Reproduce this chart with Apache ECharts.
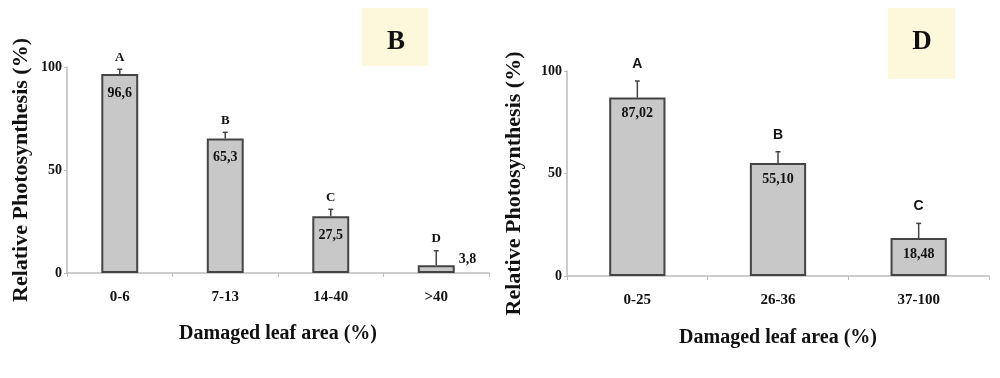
<!DOCTYPE html>
<html>
<head>
<meta charset="utf-8">
<script src="https://cdn.jsdelivr.net/npm/echarts@6/dist/echarts.min.js"></script>
<style>
  html, body { margin: 0; padding: 0; background: #fff; }
  #container { width: 1000px; height: 378px; }
</style>
</head>
<body>
<div id="container"></div>
<script>
var dom = document.getElementById('container');
var myChart = echarts.init(dom);

// panel B
var catsB = ['0-6', '7-13', '14-40', '>40'];
var valsB = [96.6, 65.3, 27.5, 3.8];
var errB = [2.3, 3.0, 3.4, 7.0];
var lettersB = ['A', 'B', 'C', 'D'];

// panel D
var catsD = ['0-25', '26-36', '37-100'];
var valsD = [87.02, 55.10, 18.48];
var errD = [8.1, 5.5, 7.2];
var lettersD = ['A', 'B', 'C'];

var yTicks = [0, 50, 100];

var serif = '"Liberation Serif", "Times New Roman", serif';
var sans = '"Liberation Sans", Arial, sans-serif';

function errData(vals, errs) {
    return vals.map(function (v, i) { return [i, v, errs[i]]; });
}

function errorRender(letters, letterFont, gap) {
    return function (params, api) {
        var i = api.value(0);
        var base = api.coord([i, api.value(1)]);
        var top = api.coord([i, api.value(1) + api.value(2)]);
        return {
            type: 'group',
            children: [
                { type: 'line', shape: { x1: base[0], y1: base[1], x2: top[0], y2: top[1] },
                  style: { stroke: '#444', lineWidth: 1.5 } },
                { type: 'line', shape: { x1: top[0] - 2.5, y1: top[1], x2: top[0] + 2.5, y2: top[1] },
                  style: { stroke: '#444', lineWidth: 1.5 } },
                { type: 'text', x: top[0], y: top[1] - gap,
                  style: { text: letters[params.dataIndex], font: letterFont, fill: '#111',
                           align: 'center', verticalAlign: 'middle' } }
            ]
        };
    };
}

function xAxisCfg(idx, cats, gap) {
    return {
        type: 'category',
        gridIndex: idx,
        data: cats,
        axisLine: { lineStyle: { color: '#bdbdbd', width: 1.5 } },
        axisTick: { show: true, length: 4, lineStyle: { color: '#bdbdbd' } },
        axisLabel: { margin: 17, color: '#111', fontFamily: serif, fontWeight: 'bold', fontSize: 15 },
        name: 'Damaged leaf area (%)',
        nameLocation: 'middle',
        nameGap: gap,
        nameTextStyle: { color: '#111', fontFamily: serif, fontWeight: 'bold', fontSize: 20 }
    };
}

function yAxisCfg(idx, gap, pad) {
    return {
        type: 'value',
        gridIndex: idx,
        min: 0,
        max: 100,
        interval: 50,
        splitLine: { show: false },
        axisLine: { show: true, lineStyle: { color: '#bdbdbd', width: 1.5 } },
        axisTick: { show: true, length: 3, lineStyle: { color: '#bdbdbd' } },
        axisLabel: { margin: 5, color: '#111', fontFamily: serif, fontWeight: 'bold', fontSize: 14,
                     formatter: function (v) { return yTicks.indexOf(v) >= 0 ? String(v) : ''; } },
        name: 'Relative Photosynthesis (%)',
        nameLocation: 'middle',
        nameGap: gap,
        nameTextStyle: { color: '#111', fontFamily: serif, fontWeight: 'bold', fontSize: 22, padding: pad }
    };
}

function barSeries(idx, vals, width, decimals, dist, sideIndex) {
    return {
        type: 'bar',
        xAxisIndex: idx,
        yAxisIndex: idx,
        barWidth: width,
        data: vals.map(function (v, i) {
            if (i === sideIndex) {
                return { value: v, label: { position: 'right', distance: 4, offset: [0, -10] } };
            }
            return v;
        }),
        itemStyle: { color: '#c8c8c8', borderColor: '#444', borderWidth: 2 },
        label: {
            show: true,
            position: 'insideTop',
            distance: dist,
            color: '#111',
            fontFamily: serif,
            fontWeight: 'bold',
            fontSize: 14,
            formatter: function (p) { return p.value.toFixed(decimals).replace('.', ','); }
        }
    };
}

var option = {
    backgroundColor: '#fff',
    animation: false,
    grid: [
        { left: 67, top: 67, width: 422, height: 206 },
        { left: 567, top: 71, width: 422, height: 205 }
    ],
    xAxis: [xAxisCfg(0, catsB, 51), xAxisCfg(1, catsD, 52)],
    yAxis: [yAxisCfg(0, 35, [0, 0, 0, 0]), yAxisCfg(1, 42, [0, 20, 0, 0])],
    graphic: [
        { type: 'rect', left: 362, top: 8, shape: { width: 66, height: 58 }, style: { fill: '#fdf8dc' } },
        { type: 'text', x: 396, y: 42, style: { text: 'B', font: 'bold 27px ' + serif, fill: '#111',
          align: 'center', verticalAlign: 'middle' } },
        { type: 'rect', left: 888, top: 8, shape: { width: 67, height: 71 }, style: { fill: '#fdf8dc' } },
        { type: 'text', x: 922, y: 42, style: { text: 'D', font: 'bold 27px ' + serif, fill: '#111',
          align: 'center', verticalAlign: 'middle' } }
    ],
    series: [
        barSeries(0, valsB, '35%', 1, 12, 3),
        {
            type: 'custom',
            xAxisIndex: 0,
            yAxisIndex: 0,
            z: 5,
            renderItem: errorRender(lettersB, 'bold 13px ' + serif, 12),
            data: errData(valsB, errB)
        },
        barSeries(1, valsD, '40%', 2, 9, -1),
        {
            type: 'custom',
            xAxisIndex: 1,
            yAxisIndex: 1,
            z: 5,
            renderItem: errorRender(lettersD, 'bold 14px ' + sans, 17),
            data: errData(valsD, errD)
        }
    ]
};

myChart.setOption(option);
</script>
</body>
</html>
